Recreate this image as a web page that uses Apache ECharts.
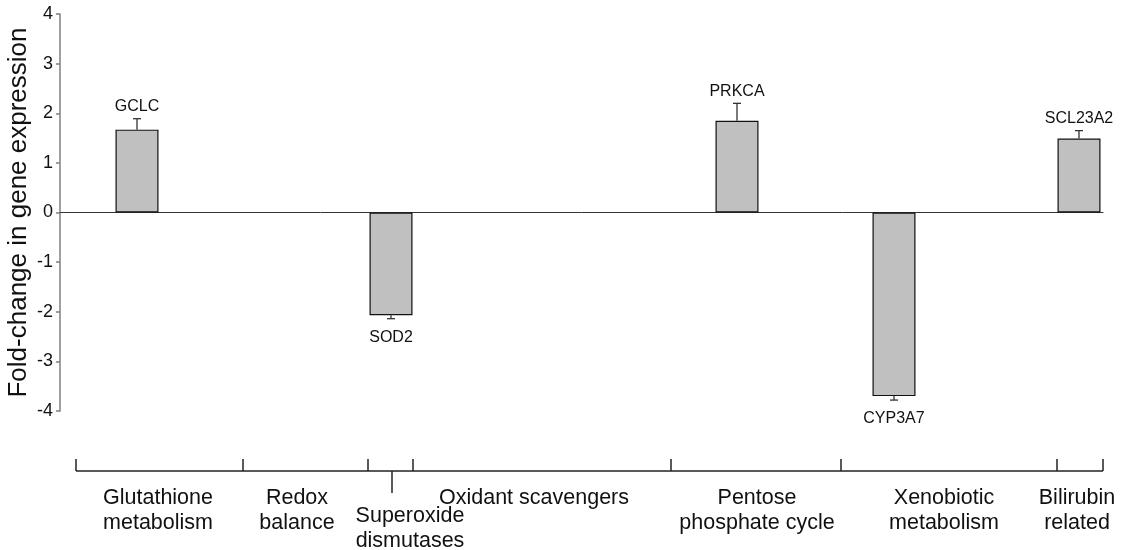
<!DOCTYPE html>
<html>
<head>
<meta charset="utf-8">
<script src="https://cdn.jsdelivr.net/npm/echarts@6/dist/echarts.min.js"></script>
<style>html,body{margin:0;padding:0;background:#fff;}#chart{width:1125px;height:550px;}</style>
</head>
<body>
<div id="chart"></div>
<script>
// ---- data ----
const genes = ['GCLC', 'SOD2', 'PRKCA', 'CYP3A7', 'SCL23A2'];
const genePosition = [77, 331, 677, 834, 1019];          // position along the x scale (0–1043)
const foldChange = [1.67, -2.07, 1.85, -3.70, 1.49];
const errorMargin = [0.22, 0.07, 0.35, 0.08, 0.16];
const yTickLabels = ['-4', '-3', '-2', '-1', '0', '1', '2', '3', '4'];
const groupNames = ['Glutathione\nmetabolism', 'Redox\nbalance', 'Superoxide\ndismutases',
  'Oxidant scavengers', 'Pentose\nphosphate cycle', 'Xenobiotic\nmetabolism', 'Bilirubin\nrelated'];
const groupLabelPosition = [98, 237, 350, 474, 697, 884, 1017];
const groupLabelRow = [0, 0, 1, 0, 0, 0, 0];
const groupBoundaries = [16, 183, 308, 353, 611, 781, 997, 1043];
const superoxideMark = [332];

const FONT = '"Liberation Sans", Arial, Helvetica, sans-serif';
const chart = echarts.init(document.getElementById('chart'), null, {renderer: 'canvas'});

const option = {
  backgroundColor: '#ffffff',
  animation: false,
  grid: [
    {left: 60, right: 22, top: 14, bottom: 139, containLabel: false, outerBoundsMode: 'none'},
    {left: 60, right: 22, top: 440, height: 110, containLabel: false, outerBoundsMode: 'none'}
  ],
  xAxis: [
    {
      type: 'value', gridIndex: 0, min: 0, max: 1043,
      axisLine: {show: true, onZero: true, lineStyle: {color: '#333', width: 1}},
      axisTick: {show: false}, axisLabel: {show: false}, splitLine: {show: false}
    },
    {
      type: 'value', gridIndex: 1, min: 0, max: 1043, show: false
    }
  ],
  yAxis: [
    {
      type: 'value', gridIndex: 0, min: -4, max: 4, interval: 1,
      name: 'Fold-change in gene expression',
      nameLocation: 'middle', nameRotate: 90, nameGap: 28, nameMoveOverlap: false,
      nameTextStyle: {fontFamily: FONT, fontSize: 26, color: '#111'},
      axisLine: {show: true, lineStyle: {color: '#808080', width: 1.5}},
      axisTick: {show: true, length: 4, lineStyle: {color: '#808080', width: 1.5}},
      axisLabel: {
        margin: 7, fontFamily: FONT, fontSize: 18, color: '#111',
        formatter: function (v) { return yTickLabels[Math.round(v) + 4]; }
      },
      splitLine: {show: false}
    },
    {
      type: 'value', gridIndex: 1, min: 0, max: 110, inverse: true, show: false
    }
  ],
  series: [
    {
      type: 'bar', xAxisIndex: 0, yAxisIndex: 0,
      barWidth: 43,
      data: genes.map((g, i) => [genePosition[i], foldChange[i]]),
      itemStyle: {color: '#c0c0c0', borderColor: '#111', borderWidth: 1.2},
      z: 2
    },
    {
      type: 'custom', xAxisIndex: 0, yAxisIndex: 0, z: 3,
      data: genes.map((g, i) => [genePosition[i], foldChange[i], errorMargin[i], i]),
      renderItem: function (params, api) {
        const x = api.value(0), v = api.value(1), e = api.value(2), i = api.value(3);
        const end = v >= 0 ? v + e : v - e;
        const p0 = api.coord([x, v]);
        const p1 = api.coord([x, end]);
        const ly = v >= 0 ? p1[1] - 12 : p1[1] + 19;
        return {
          type: 'group',
          children: [
            {type: 'line', shape: {x1: p0[0], y1: p0[1], x2: p1[0], y2: p1[1]},
              style: {stroke: '#333', lineWidth: 1.3}},
            {type: 'line', shape: {x1: p1[0] - 4, y1: p1[1], x2: p1[0] + 4, y2: p1[1]},
              style: {stroke: '#333', lineWidth: 1.3}},
            {type: 'text', style: {text: genes[i], x: p1[0], y: ly, align: 'center',
              verticalAlign: 'middle', fontFamily: FONT, fontSize: 16, fill: '#111'}}
          ]
        };
      }
    },
    {
      type: 'custom', xAxisIndex: 1, yAxisIndex: 1,
      data: groupBoundaries.map(b => [b, 0]),
      renderItem: function (params, api) {
        const top = api.coord([api.value(0), 19]);
        const base = api.coord([api.value(0), 31]);
        const children = [
          {type: 'line', shape: {x1: base[0], y1: base[1], x2: top[0], y2: top[1]},
            style: {stroke: '#222', lineWidth: 1.5}}
        ];
        if (params.dataIndex === 0) {
          const a = api.coord([groupBoundaries[0], 31]);
          const b = api.coord([groupBoundaries[groupBoundaries.length - 1], 31]);
          children.push({type: 'line', shape: {x1: a[0], y1: a[1], x2: b[0], y2: b[1]},
            style: {stroke: '#222', lineWidth: 1.5}});
        }
        return {type: 'group', children: children};
      }
    },
    {
      type: 'custom', xAxisIndex: 1, yAxisIndex: 1,
      data: superoxideMark.map(b => [b, 0]),
      renderItem: function (params, api) {
        const a = api.coord([api.value(0), 31]);
        const b = api.coord([api.value(0), 53]);
        return {type: 'line', shape: {x1: a[0], y1: a[1], x2: b[0], y2: b[1]},
          style: {stroke: '#222', lineWidth: 1.5}};
      }
    },
    {
      type: 'custom', xAxisIndex: 1, yAxisIndex: 1,
      data: groupNames.map((n, i) => [groupLabelPosition[i], groupLabelRow[i], i]),
      renderItem: function (params, api) {
        const row = api.value(1), i = api.value(2);
        const p = api.coord([api.value(0), row ? 63.5 : 45.5]);
        return {type: 'text', style: {
          text: groupNames[i], x: p[0], y: p[1], align: 'center', verticalAlign: 'top',
          fontFamily: FONT, fontSize: 21.5, lineHeight: 25, fill: '#111'}};
      }
    }
  ]
};
chart.setOption(option);
</script>
</body>
</html>
